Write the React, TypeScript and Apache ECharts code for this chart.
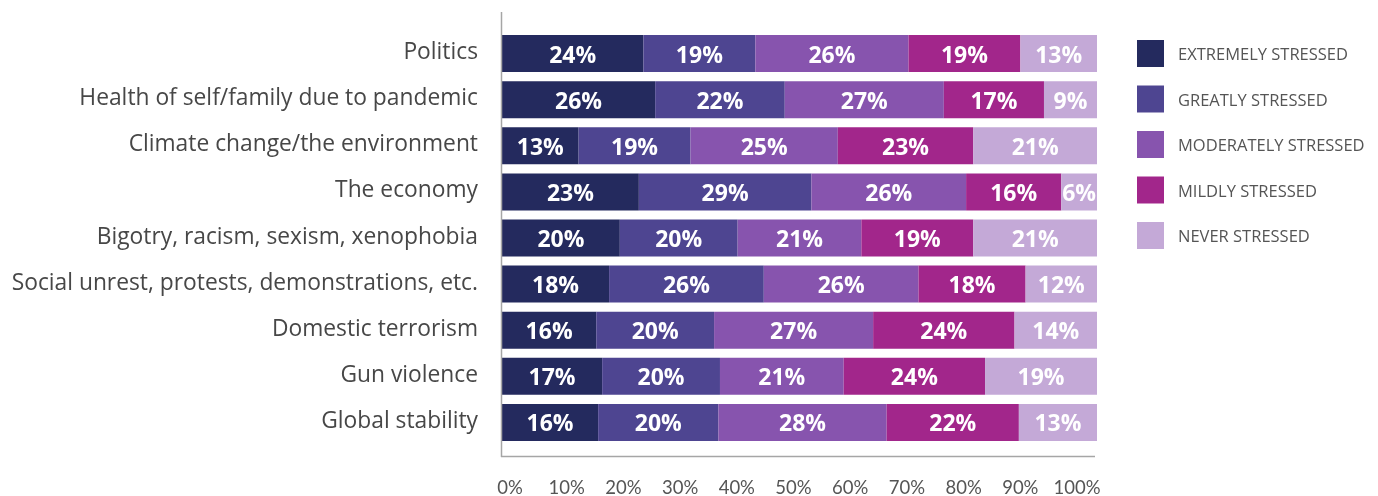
import React, { useEffect, useRef } from "react";
import * as echarts from "echarts";

const categories = [
  "Politics",
  "Health of self/family due to pandemic",
  "Climate change/the environment",
  "The economy",
  "Bigotry, racism, sexism, xenophobia",
  "Social unrest, protests, demonstrations, etc.",
  "Domestic terrorism",
  "Gun violence",
  "Global stability",
];

const seriesNames = [
  "EXTREMELY STRESSED",
  "GREATLY STRESSED",
  "MODERATELY STRESSED",
  "MILDLY STRESSED",
  "NEVER STRESSED",
];

const extremely = [24, 26, 13, 23, 20, 18, 16, 17, 16];
const greatly = [19, 22, 19, 29, 20, 26, 20, 20, 20];
const moderately = [26, 27, 25, 26, 21, 26, 27, 21, 28];
const mildly = [19, 17, 23, 16, 19, 18, 24, 24, 22];
const never = [13, 9, 21, 6, 21, 12, 14, 19, 13];

const tickValues = [0, 10, 20, 30, 40, 50, 60, 70, 80, 90, 100];

const colors = ["#242a5e", "#4e4591", "#8754ae", "#a2268b", "#c4a9d7"];

const FONT = "'Open Sans', Lato, sans-serif";
const FONT_LIGHT = "Lato, 'Open Sans', sans-serif";

export default function App() {
  const ref = useRef<HTMLDivElement>(null);

  useEffect(() => {
    if (!ref.current) return;
    const chart = echarts.init(ref.current, null, { renderer: "svg" });
    const raw = [extremely, greatly, moderately, mildly, never];
    const sums = categories.map((_, i) => raw.reduce((s, arr) => s + arr[i], 0));

    const series = raw.map((arr, si) => ({
      name: seriesNames[si],
      type: "bar",
      stack: "total",
      xAxisIndex: 0,
      yAxisIndex: 0,
      barWidth: 37,
      itemStyle: { color: colors[si] },
      label: {
        show: true,
        position: "inside",
        color: "#ffffff",
        fontFamily: FONT,
        fontWeight: "bold",
        fontSize: 23,
        formatter: (p: any) => `${arr[p.dataIndex]}%`,
      },
      emphasis: { disabled: true },
      data: arr.map((v, i) => (v / sums[i]) * 100),
    }));

    chart.setOption({
      animation: false,
      color: colors,
      grid: [
        { left: 502, right: 281, top: 30.5, height: 415, containLabel: false },
        { left: 510, right: 301, top: 30, bottom: 39.5, containLabel: false },
      ],
      legend: {
        orient: "vertical",
        left: 1137,
        top: 40,
        padding: 0,
        itemWidth: 27,
        itemHeight: 27,
        itemGap: 18.5,
        icon: "rect",
        selectedMode: false,
        data: seriesNames,
        textStyle: {
          fontFamily: FONT,
          fontSize: 16.5,
          color: "#555555",
          padding: [0, 0, 0, 9],
        },
      },
      xAxis: [
        {
          type: "value",
          gridIndex: 0,
          min: 0,
          max: 100,
          show: false,
        },
        {
          type: "value",
          gridIndex: 1,
          min: tickValues[0],
          max: tickValues[tickValues.length - 1],
          interval: 10,
          axisLine: { show: false },
          axisTick: { show: false },
          splitLine: { show: false },
          axisLabel: {
            margin: 21,
            fontFamily: FONT_LIGHT,
            fontSize: 18.5,
            color: "#555555",
            formatter: (v: number) => `${v}%`,
          },
        },
      ],
      yAxis: [
        {
          type: "category",
          gridIndex: 0,
          inverse: true,
          data: categories,
          axisLine: { show: false },
          axisTick: { show: false },
          axisLabel: {
            margin: 24,
            formatter: (v: string) => `{c|${v}}`,
            rich: {
              c: {
                fontFamily: FONT,
                fontSize: 22.8,
                color: "#474747",
                padding: [0, 0, 6, 0],
              },
            },
          },
        },
        {
          type: "value",
          gridIndex: 1,
          show: false,
        },
      ],
      graphic: [
        {
          type: "line",
          shape: { x1: 501.5, y1: 12, x2: 501.5, y2: 457 },
          style: { stroke: "#a6a6a6", lineWidth: 1.5 },
          z: 10,
        },
        {
          type: "line",
          shape: { x1: 501, y1: 456.5, x2: 1095, y2: 456.5 },
          style: { stroke: "#a6a6a6", lineWidth: 1.5 },
          z: 10,
        },
      ],
      series,
    });

    return () => chart.dispose();
  }, []);

  return (
    <div
      ref={ref}
      style={{ position: "fixed", left: 0, top: 0, width: 1378, height: 496 }}
    />
  );
}
